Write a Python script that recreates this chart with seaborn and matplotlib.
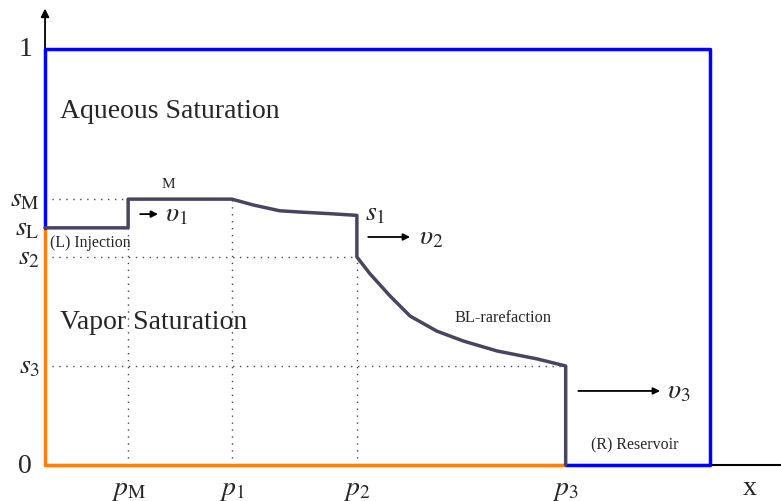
import numpy as np
import pandas as pd
import matplotlib
matplotlib.use("Agg")
import matplotlib.pyplot as plt
import seaborn as sns

sns.set_theme(style="white")
plt.rcParams['font.family'] = ['Liberation Serif', 'DejaVu Serif']
plt.rcParams['mathtext.fontset'] = 'stix'

# positions on the x axis
pM, p1, p2, p3, xR = 0.125, 0.281, 0.469, 0.783, 1.0
# saturation levels
sM, sL, s1, s2, s3 = 0.639, 0.570, 0.600, 0.500, 0.238

# saturation profile (x, s)
prof_x = [0.0, pM, pM, p1, 0.313, 0.353, 0.383, 0.429, p2,
          p2, 0.489, 0.519, 0.549, 0.589, 0.629, 0.680, 0.740, p3, p3]
prof_s = [sL, sL, sM, sM, 0.625, 0.611, 0.608, 0.604, s1,
          s2, 0.459, 0.406, 0.358, 0.322, 0.298, 0.274, 0.255, s3, 0.0]

tick_pos = [pM, p1, p2, p3]
tick_labels = [r'$p_{\mathrm{M}}$', r'$p_1$', r'$p_2$', r'$p_3$']
ylev = [sM, sL, s2, s3]
ylev_labels = [r'$s_{\mathrm{M}}$', r'$s_{\mathrm{L}}$', r'$s_2$', r'$s_3$']

fig = plt.figure(figsize=(7.81, 5.02), dpi=100)
ax = fig.add_axes([0, 0, 1, 1])

blue = '#0000ff'
orange = '#ff7f0e'
purple = '#4a4460'
dotc = '#444455'
dots = (0, (1, 4))

# axes lines
ax.plot([0, 1.1068], [0, 0], color='black', lw=1.5, zorder=1)
ax.annotate('', xy=(0, 1.097), xytext=(0, 1.0),
            arrowprops=dict(arrowstyle='-|>', color='black', lw=1.3,
                            mutation_scale=12, shrinkA=0, shrinkB=0))

# dotted guides
ax.plot([0, pM], [sM, sM], ls=dots, color=dotc, lw=1)
ax.plot([0, p2], [s2, s2], ls=dots, color=dotc, lw=1)
ax.plot([0, p3], [s3, s3], ls=dots, color=dotc, lw=1)
ax.plot([pM, pM], [0, sL], ls=dots, color=dotc, lw=1)
ax.plot([p1, p1], [0, sM], ls=dots, color=dotc, lw=1)
ax.plot([p2, p2], [0, s2], ls=dots, color=dotc, lw=1)

# boundary
ax.plot([0, 0], [0, sL], color=orange, lw=2.5, zorder=3)
ax.plot([0, p3], [0, 0], color=orange, lw=2.5, zorder=3)
ax.plot([0, 0, xR, xR, p3], [sL, 1, 1, 0, 0], color=blue, lw=2.5, zorder=3)

df = pd.DataFrame({'x': prof_x, 's': prof_s})
sns.lineplot(data=df, x='x', y='s', sort=False, estimator=None,
             color=purple, lw=2.5, ax=ax, zorder=4)
ax.set_xlim(-0.0677, 1.1068)
ax.set_ylim(-0.0865, 1.120)
ax.axis('off')

fs = 20
ax.text(-0.030, 1.0, '1', ha='center', va='center', fontsize=fs)
ax.text(-0.030, 0.0, '0', ha='center', va='center', fontsize=fs)
for y, lab in zip(ylev, ylev_labels):
    ax.text(-0.008, y, lab, ha='right', va='center', fontsize=fs)
for x, lab in zip(tick_pos, tick_labels):
    ax.text(x, -0.058, lab, ha='center', va='center', fontsize=fs)
ax.text(1.06, -0.055, 'x', ha='center', va='center', fontsize=fs)

ax.text(0.0226, 0.851, 'Aqueous Saturation', ha='left', va='center', fontsize=fs)
ax.text(0.0226, 0.346, 'Vapor Saturation', ha='left', va='center', fontsize=fs)
ax.text(0.185, 0.676, 'M', ha='center', va='center', fontsize=11)
ax.text(0.0075, 0.536, '(L) Injection', ha='left', va='center', fontsize=11.4)
ax.text(0.689, 0.356, 'BL-rarefaction', ha='center', va='center', fontsize=11.8)
ax.text(0.887, 0.05, '(R) Reservoir', ha='center', va='center', fontsize=11.5)
ax.text(0.481, 0.605, r'$s_1$', ha='left', va='center', fontsize=fs)

def arrow(x0, x1, y):
    ax.annotate('', xy=(x1, y), xytext=(x0, y),
                arrowprops=dict(arrowstyle='-|>', color='black', lw=1.3,
                                mutation_scale=10, shrinkA=0, shrinkB=0))

arrow(0.143, 0.170, 0.603)
ax.text(0.180, 0.603, r'$\upsilon_1$', ha='left', va='center', fontsize=fs)
arrow(0.486, 0.549, 0.548)
ax.text(0.562, 0.548, r'$\upsilon_2$', ha='left', va='center', fontsize=fs)
arrow(0.802, 0.925, 0.178)
ax.text(0.935, 0.178, r'$\upsilon_3$', ha='left', va='center', fontsize=fs)

fig.savefig('out.png', dpi=100)
